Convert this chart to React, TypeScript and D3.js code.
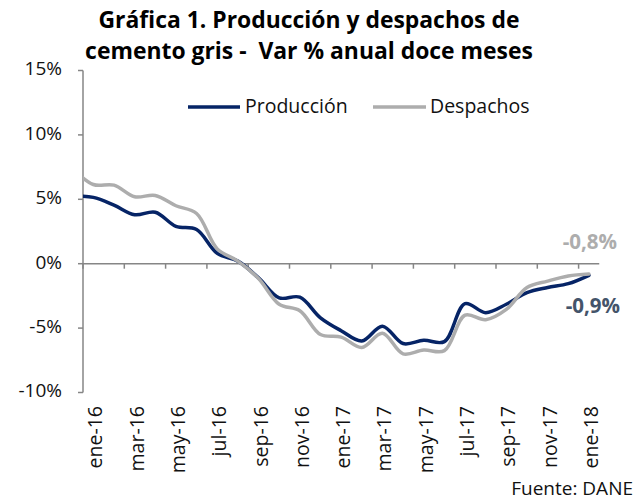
import React from "react";
import * as d3 from "d3";

const periods = ["dic-15","ene-16","feb-16","mar-16","abr-16","may-16","jun-16","jul-16","ago-16","sep-16","oct-16","nov-16","dic-16","ene-17","feb-17","mar-17","abr-17","may-17","jun-17","jul-17","ago-17","sep-17","oct-17","nov-17","dic-17","ene-18"];
const produccion = [5.25,5.15,4.55,3.8,4.0,2.9,2.65,0.8,0.2,-1.1,-2.65,-2.6,-4.2,-5.2,-6.0,-4.85,-6.2,-5.95,-6.05,-3.1,-3.8,-3.15,-2.25,-1.85,-1.55,-0.9];
const despachos = [7.4,6.15,6.1,5.2,5.3,4.5,3.9,1.15,0.2,-1.15,-3.15,-3.65,-5.5,-5.7,-6.5,-5.4,-7.0,-6.7,-6.75,-4.0,-4.35,-3.55,-1.85,-1.35,-0.95,-0.8];
const tickLabels = ["ene-16","mar-16","may-16","jul-16","sep-16","nov-16","ene-17","mar-17","may-17","jul-17","sep-17","nov-17","ene-18"];
const yTicks = [-10,-5,0,5,10,15];
const seriesNames = ["Producción","Despachos"];
const lastLabels = ["-0,9%","-0,8%"];

const W = 638, H = 502;
const FONT = "'Open Sans', 'Noto Sans', sans-serif";
const AX = "#868686";
const NAVY = "#062466";
const GRAY = "#ADADAD";
const TXT = "#111";

export default function App() {
  const left = 83, right = 599.25;
  const bw = (right - left) / 25;
  const x = d3.scaleBand<string>().domain(periods).range([left - bw, right]).padding(0);
  const cx = (p: string) => (x(p) as number) + bw / 2;
  const y = d3.scaleLinear().domain([-10, 15]).range([392.5, 70.5]);
  const line = d3.line<number>()
    .x((_, i) => cx(periods[i]))
    .y(d => y(d))
    .curve(d3.curveCatmullRom.alpha(0.5));
  const axisTicks = d3.range(0, 13).map(k => left + 2 * k * bw);
  return (
    <svg width={W} height={H} style={{ position: "absolute", left: 0, top: 0, background: "#fff" }} fontFamily={FONT}>
      <defs>
        <clipPath id="plot"><rect x={left} y={40} width={right - left + 10} height={400} /></clipPath>
      </defs>
      <text x={309} y={28} textAnchor="middle" fontSize={22.9} fontWeight="bold" fill="#000">Gráfica 1. Producción y despachos de</text>
      <text x={309} y={59} textAnchor="middle" fontSize={22.9} fontWeight="bold" fill="#000" style={{ whiteSpace: "pre" }}>cemento gris -  Var % anual doce meses</text>
      {/* y axis */}
      <line x1={left} x2={left} y1={y(15)} y2={y(-10)} stroke={AX} strokeWidth={1.5} />
      {yTicks.map(t => (
        <g key={t}>
          <line x1={left - 5} x2={left} y1={y(t)} y2={y(t)} stroke={AX} strokeWidth={1.5} />
          <text x={62} y={y(t) - 2} dy="0.36em" textAnchor="end" fontSize={19} fill={TXT}>{t}%</text>
        </g>
      ))}
      {/* x axis at zero */}
      <line x1={left} x2={right} y1={y(0)} y2={y(0)} stroke={AX} strokeWidth={1.5} />
      {axisTicks.map((t, i) => (
        <line key={i} x1={t} x2={t} y1={y(0)} y2={y(0) + 5} stroke={AX} strokeWidth={1.5} />
      ))}
      {tickLabels.map(l => (
        <text key={l} transform={`translate(${cx(l) + 1.5},406) rotate(-90)`} textAnchor="end" dominantBaseline="central" fontSize={19.5} fill={TXT}>{l}</text>
      ))}
      <g clipPath="url(#plot)">
        <path d={line(produccion) || ""} fill="none" stroke={NAVY} strokeWidth={3.5} strokeLinecap="round" />
        <path d={line(despachos) || ""} fill="none" stroke={GRAY} strokeWidth={3.5} strokeLinecap="round" />
      </g>
      {/* legend */}
      <line x1={188} x2={240} y1={107} y2={107} stroke={NAVY} strokeWidth={3.5} />
      <text x={245} y={113} fontSize={19.5} fill={TXT}>{seriesNames[0]}</text>
      <line x1={373} x2={426} y1={107} y2={107} stroke={GRAY} strokeWidth={3.5} />
      <text x={430} y={113} fontSize={19.5} fill={TXT}>{seriesNames[1]}</text>
      {/* end labels */}
      <text x={617} y={249} textAnchor="end" fontSize={20.5} fontWeight="bold" fill={GRAY}>{lastLabels[1]}</text>
      <text x={620} y={313} textAnchor="end" fontSize={20.5} fontWeight="bold" fill="#44546A">{lastLabels[0]}</text>
      <text x={633} y={495} textAnchor="end" fontSize={19} fill={TXT}>Fuente: DANE</text>
    </svg>
  );
}
